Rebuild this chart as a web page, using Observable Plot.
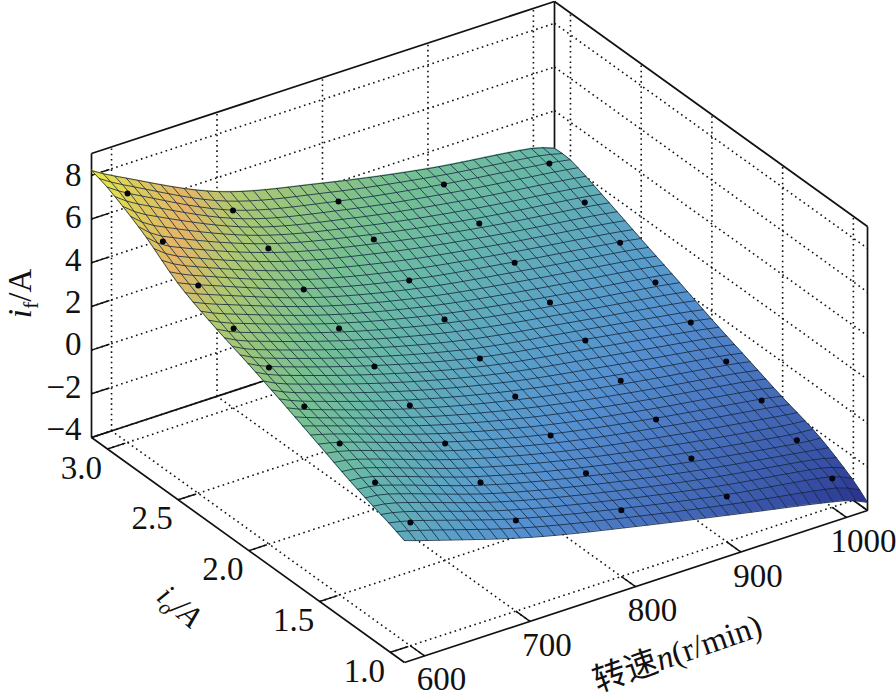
<!DOCTYPE html>
<html><head><meta charset="utf-8">
<style>html,body{margin:0;padding:0;background:#fff}svg{display:block}</style>
<script src="https://cdn.jsdelivr.net/npm/d3@7"></script>
<script src="https://cdn.jsdelivr.net/npm/@observablehq/plot@0.6"></script>
</head><body><div id="chart"></div>
<script>
// axis ranges (box limits) and ticks
const nDomain = [581, 1020];
const ioDomain = [0.9, 3.113];
const zDomain = [-4, 9];
const nTicks = [600, 700, 800, 900, 1000];
const ioTicks = [3.0, 2.5, 2.0, 1.5, 1.0];
const zTicks = [8, 6, 4, 2, 0, -2, -4];

// surface height read at these speeds / currents (first and last are the surface borders)
const nKnots = [581, 600, 700, 800, 900, 1000, 1020];
const ioKnots = [3.113, 3, 2.75, 2.5, 2.25, 2, 1.75, 1.5, 1.25, 1, 0.9];
const zAtIo3113 = [8.22, 7.69, 5.37, 4.17, 3.25, 2.60, 2.28];
const zAtIo300 = [7.97, 7.39, 5.03, 3.86, 3.05, 2.43, 2.27];
const zAtIo275 = [7.07, 6.36, 4.45, 3.28, 2.43, 1.80, 1.65];
const zAtIo250 = [5.90, 5.51, 3.74, 2.57, 1.80, 1.13, 0.97];
const zAtIo225 = [5.14, 4.70, 3.12, 1.95, 1.14, 0.47, 0.31];
const zAtIo200 = [4.52, 4.08, 2.54, 1.33, 0.56, -0.20, -0.38];
const zAtIo175 = [3.85, 3.46, 1.92, 0.75, -0.11, -0.82, -1.00];
const zAtIo150 = [3.14, 2.93, 1.35, 0.13, -0.73, -1.44, -1.62];
const zAtIo125 = [2.43, 2.31, 0.73, -0.44, -1.35, -2.10, -2.18];
const zAtIo100 = [1.85, 1.64, 0.15, -0.97, -1.92, -2.68, -3.09];
const zAtIo090 = [1.58, 1.28, -0.16, -1.25, -2.24, -3.23, -3.63];
const zRows = [zAtIo3113, zAtIo300, zAtIo275, zAtIo250, zAtIo225, zAtIo200, zAtIo175, zAtIo150, zAtIo125, zAtIo100, zAtIo090];
const meshCells = 40;

// colour ramp of the surface
const colorStops = [-3.7, -3, -2, -1, 0, 1, 2.5, 3.5, 5, 6, 7, 8.2];
const colorRamp = ["#2a2a88", "#30409a", "#3f5fb0", "#4b78c2", "#5590d0", "#5aa0c8", "#68b8a8", "#78c090", "#b0c870", "#e6b468", "#dcc85c", "#e8e64a"];

// oblique view of the box
const nf = n => (n - nDomain[0]) / (nDomain[1] - nDomain[0]);
const iof = io => (ioDomain[1] - io) / (ioDomain[1] - ioDomain[0]);
const zUnit = 284 / (zDomain[1] - zDomain[0]);
const px = (n, io) => 91 + 463 * nf(n) + 313 * iof(io);
const py = (n, io, z) => 437 - 152 * nf(n) + 225 * iof(io) - zUnit * (z - zDomain[0]);
const P = (n, io, z) => [px(n, io), py(n, io, z)];

// smooth evaluation of the read heights for drawing the fine mesh
function hermite(xs, ys, x) {
  const m = xs.length;
  let i = 0;
  const up = xs[1] > xs[0];
  while (i < m - 2 && (up ? x > xs[i + 1] : x < xs[i + 1])) i++;
  const slope = k => k === 0 ? (ys[1] - ys[0]) / (xs[1] - xs[0])
    : k === m - 1 ? (ys[m - 1] - ys[m - 2]) / (xs[m - 1] - xs[m - 2])
    : (ys[k + 1] - ys[k - 1]) / (xs[k + 1] - xs[k - 1]);
  const h = xs[i + 1] - xs[i], t = (x - xs[i]) / h;
  const t2 = t * t, t3 = t2 * t;
  return (2 * t3 - 3 * t2 + 1) * ys[i] + (t3 - 2 * t2 + t) * h * slope(i)
    + (-2 * t3 + 3 * t2) * ys[i + 1] + (t3 - t2) * h * slope(i + 1);
}
function surfaceZ(n, io) {
  const col = zRows.map(r => hermite(nKnots, r, n));
  return hermite(ioKnots, col, io);
}

// mesh
const nodeN = d3.range(meshCells + 1).map(i => nDomain[0] + (nDomain[1] - nDomain[0]) * i / meshCells);
const nodeIo = d3.range(meshCells + 1).map(j => ioDomain[1] - (ioDomain[1] - ioDomain[0]) * j / meshCells);
const node = nodeIo.map(io => nodeN.map(n => ({n, io, z: surfaceZ(n, io)})));
const quads = [];
for (let j = 0; j < meshCells; j++) for (let i = 0; i < meshCells; i++) {
  const a = node[j][i], b = node[j][i + 1], c = node[j + 1][i], d = node[j + 1][i + 1];
  const mean = (a.z + b.z + c.z + d.z) / 4, id = j * 1000 + i;
  quads.push({id, v: mean, x1: px(a.n, a.io), y1: py(a.n, a.io, a.z), x2: px(c.n, c.io), y2: py(c.n, c.io, c.z)});
  quads.push({id, v: mean, x1: px(b.n, b.io), y1: py(b.n, b.io, b.z), x2: px(d.n, d.io), y2: py(d.n, d.io, d.z)});
}
const meshLines = [];
node.forEach((row, j) => row.forEach(p => meshLines.push({id: "r" + j, x: px(p.n, p.io), y: py(p.n, p.io, p.z)})));
nodeN.forEach((_, i) => node.forEach(row => { const p = row[i]; meshLines.push({id: "c" + i, x: px(p.n, p.io), y: py(p.n, p.io, p.z)}); }));

// measured points
const points = [];
ioKnots.slice(1, -1).forEach((io, j) => nKnots.slice(1, -1).forEach((n, i) => {
  const z = zRows[j + 1][i + 1];
  points.push({x: px(n, io), y: py(n, io, z)});
}));

// box
const seg = (a, b) => ({x1: a[0], y1: a[1], x2: b[0], y2: b[1]});
const [n0, n1] = nDomain, [io0, io1] = ioDomain, [z0, z1] = zDomain;
const frame = [
  seg(P(n0, io1, z0), P(n0, io1, z1)), seg(P(n0, io1, z1), P(n1, io1, z1)),
  seg(P(n1, io1, z0), P(n1, io1, z1)), seg(P(n1, io1, z1), P(n1, io0, z1)),
  seg(P(n1, io0, z1), P(n1, io0, z0)), seg(P(n1, io0, z0), P(n0, io0, z0)),
  seg(P(n0, io0, z0), P(n0, io1, z0)), seg(P(n0, io1, z0), P(n1, io1, z0)),
  seg(P(n1, io1, z0), P(n1, io0, z0))
];
const tickSegs = [
  ...zTicks.map(z => seg(P(n0, io1, z), P(n0 + 17, io1, z))),
  ...nTicks.map(n => seg(P(n, io0, z0), P(n, io0 + 0.1, z0))),
  ...ioTicks.map(io => seg(P(n0, io, z0), P(n0 + 17, io, z0)))
];
const dotted = [
  ...nTicks.map(n => seg(P(n, io0, z0), P(n, io1, z0))),
  ...nTicks.map(n => seg(P(n, io1, z0), P(n, io1, z1))),
  ...ioTicks.map(io => seg(P(n0, io, z0), P(n1, io, z0))),
  ...ioTicks.map(io => seg(P(n1, io, z0), P(n1, io, z1))),
  ...zTicks.map(z => seg(P(n0, io1, z), P(n1, io1, z))),
  ...zTicks.map(z => seg(P(n1, io1, z), P(n1, io0, z)))
];

const serif = "'Liberation Serif', 'Times New Roman', serif";
const numStyle = {fontFamily: serif, fontSize: 33, fill: "#111"};
const fmtZ = z => z < 0 ? "\u2212" + (-z) : String(z);

const zLabels = zTicks.map(z => ({t: fmtZ(z), x: px(n0, io1) - 10, y: py(n0, io1, z) - (8 - z) * 0.65}));
const ioLabels = ioTicks.map(io => ({t: io.toFixed(1), x: px(n0, io) - 26 + 16 / 1 * 0, y: py(n0, io, z0) + 19}));
const nLabels = nTicks.map(n => ({t: String(n), x: px(n, io0) + 17, y: py(n, io0, z0) + 24}));

const chart = Plot.plot({
  width: 896, height: 695, margin: 0,
  style: {background: "#fff", overflow: "visible"},
  x: {domain: [0, 896], range: [0, 896], axis: null},
  y: {domain: [0, 695], range: [0, 695], axis: null},
  color: {type: "linear", domain: colorStops, range: colorRamp, interpolate: "rgb"},
  marks: [
    Plot.link(dotted, {x1: "x1", y1: "y1", x2: "x2", y2: "y2", stroke: "#111", strokeWidth: 1.6, strokeDasharray: "1.6,3.6", strokeLinecap: "butt"}),
    Plot.link(frame, {x1: "x1", y1: "y1", x2: "x2", y2: "y2", stroke: "#111", strokeWidth: 1.7}),
    Plot.link(tickSegs, {x1: "x1", y1: "y1", x2: "x2", y2: "y2", stroke: "#111", strokeWidth: 1.5}),
    Plot.area(quads, {x1: "x1", y1: "y1", x2: "x2", y2: "y2", z: "id", fill: "v", stroke: "v", strokeWidth: 0.6}),
    Plot.line(meshLines, {x: "x", y: "y", z: "id", stroke: "#10263a", strokeWidth: 1, strokeOpacity: 0.8}),
    Plot.dot(points, {x: "x", y: "y", r: 3, fill: "#050510"}),
    Plot.text(zLabels, {x: "x", y: "y", text: "t", textAnchor: "end", ...numStyle}),
    Plot.text(ioLabels, {x: "x", y: "y", text: "t", ...numStyle}),
    Plot.text(nLabels, {x: "x", y: "y", text: "t", ...numStyle}),
    Plot.text(["if/A"], {x: () => 20, y: () => 293, rotate: -90, ...numStyle}),
    Plot.text(["io/A"], {x: () => 179, y: () => 606, rotate: 41, ...numStyle, fontSize: 31}),
    Plot.text(["转速n(r/min)"], {x: () => 677, y: () => 653, rotate: -19, ...numStyle})
  ]
});

// rich text: italics and subscripts in the axis titles
function rich(el, parts) {
  el.textContent = "";
  for (const p of parts) {
    const t = document.createElementNS("http://www.w3.org/2000/svg", "tspan");
    t.textContent = p.s;
    if (p.i) t.setAttribute("font-style", "italic");
    if (p.f) t.setAttribute("font-family", p.f);
    if (p.size) t.setAttribute("font-size", p.size);
    if (p.dy) t.setAttribute("dy", p.dy);
    el.appendChild(t);
  }
}
chart.querySelectorAll("text").forEach(el => {
  const s = el.textContent;
  if (s === "if/A") rich(el, [{s: "i", i: 1}, {s: "f", size: 22, dy: 7}, {s: "/A", dy: -7}]);
  else if (s === "io/A") rich(el, [{s: "i", i: 1}, {s: "o", i: 1, size: 21, dy: 7}, {s: "/A", i: 1, dy: -7}]);
  else if (s === "转速n(r/min)") rich(el, [{s: "转速", f: "'Noto Sans CJK SC'"}, {s: "n", i: 1}, {s: "(r/min)"}]);
});
document.getElementById("chart").appendChild(chart);
</script>
</body></html>
